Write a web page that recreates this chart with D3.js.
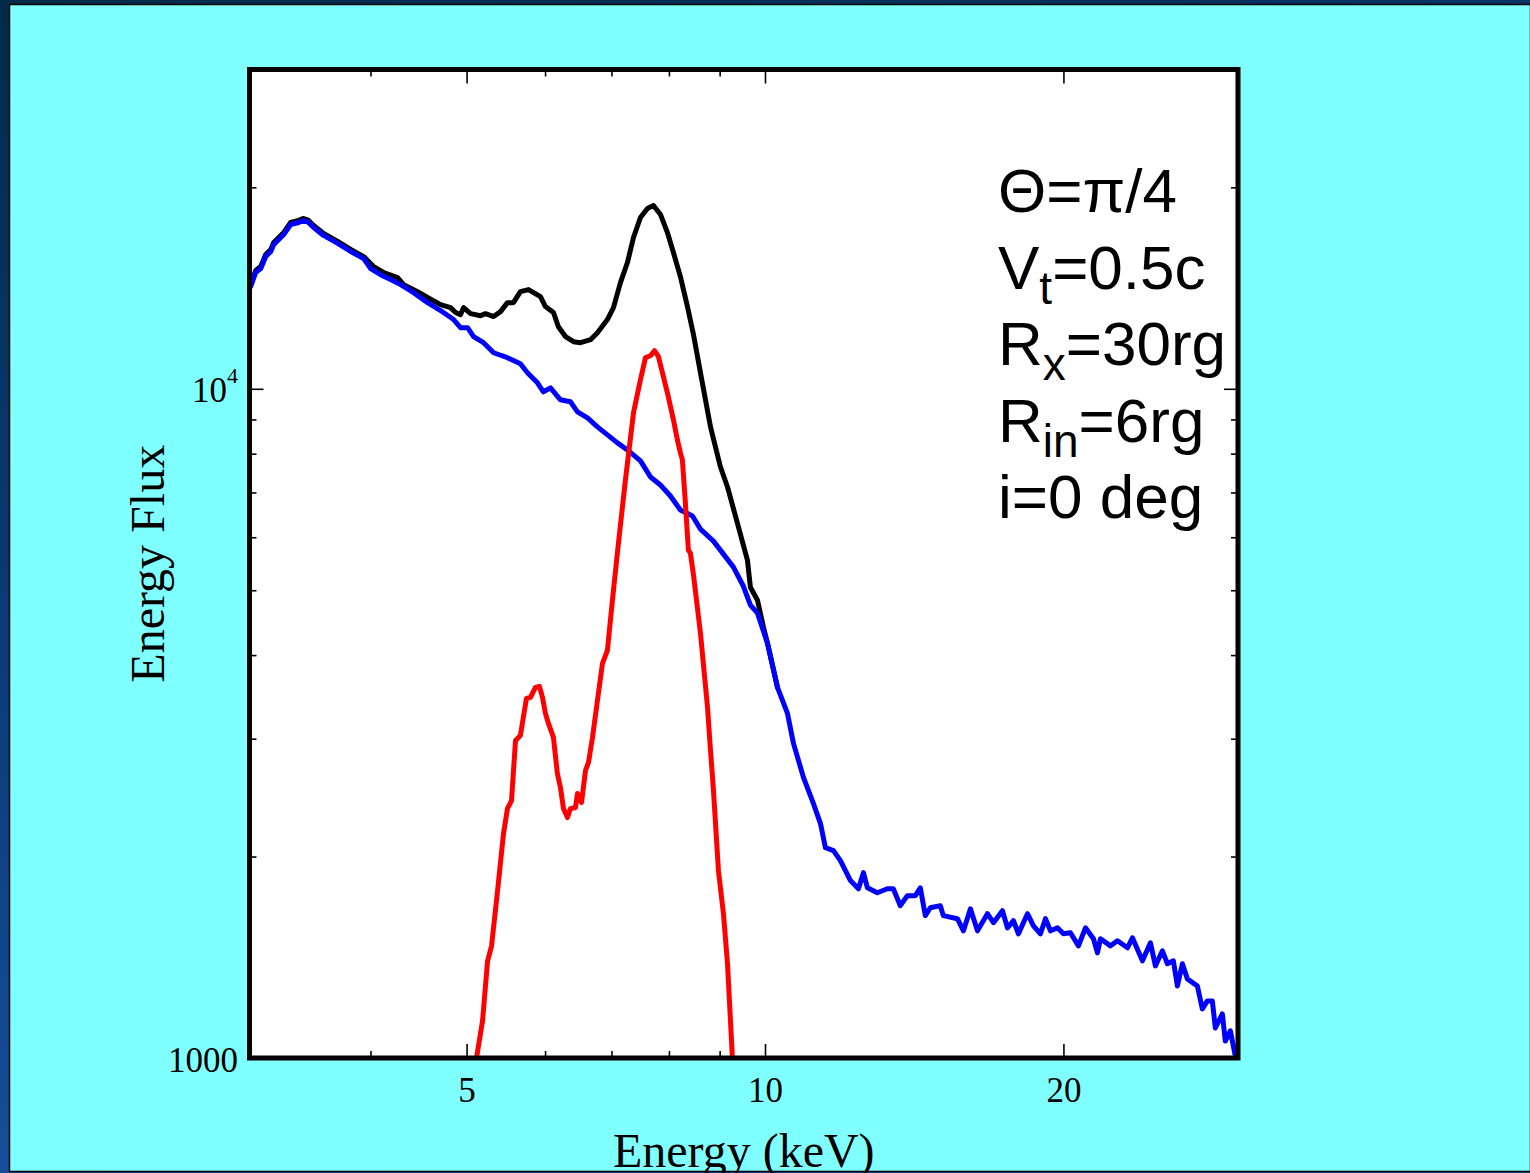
<!DOCTYPE html>
<html><head><meta charset="utf-8">
<script src="https://cdn.jsdelivr.net/npm/d3@7"></script>
<style>html,body{margin:0;padding:0;background:#0b2f5e;} svg{display:block;}</style>
</head><body><svg id="chart" width="1530" height="1173"></svg>
<script>
// ---------- data ----------
const xDomain = [3.02, 30];
const yDomain = [1000, 30000];
const xMajorTicks = [5, 10, 20];
const xMajorLabels = ["5", "10", "20"];
const xMinorTicks = [4, 6, 7, 8, 9];
const yMajorTicks = [1000, 10000];
const yMajorLabels = [["1000", ""], ["10", "4"]];
const yMinorTicks = [2000, 3000, 4000, 5000, 6000, 7000, 8000, 9000, 20000];
const xTitle = "Energy (keV)";
const yTitle = "Energy Flux";
const annotations = [
  ["Θ=π/4", "", ""],
  ["V", "t", "=0.5c"],
  ["R", "x", "=30rg"],
  ["R", "in", "=6rg"],
  ["i=0 deg", "", ""]
];

// continuum (blue)
const blueE = [3.028,3.064,3.100,3.136,3.173,3.195,3.270,3.323,3.385,3.425,
  3.464,3.505,3.587,3.706,3.820,3.937,4.001,4.095,4.191,4.290,
  4.421,4.567,4.707,4.851,4.931,5.012,5.082,5.201,5.324,5.498,
  5.666,5.759,5.895,5.977,6.076,6.218,6.364,6.469,6.621,6.776,
  6.935,7.098,7.265,7.488,7.664,7.844,8.028,8.216,8.450,8.608,
  8.872,9.080,9.293,9.511,9.667,9.827,10.058,10.294,10.536,10.684,
  10.934,11.191,11.375,11.507,11.723,11.915,12.195,12.424,12.569,12.686,
  12.981,13.286,13.472,13.693,13.918,14.179,14.344,14.512,14.681,15.026,
  15.131,15.636,15.855,16.115,16.380,16.764,17.000,17.359,17.562,17.808,
  18.016,18.397,18.655,18.961,19.182,19.406,19.724,20.000,20.328,20.710,
  21.050,21.445,21.645,21.796,22.308,22.674,23.206,23.477,24.028,24.478,
  24.764,25.170,25.463,25.820,26.061,26.364,26.672,27.298,27.617,27.939,
  28.265,28.462,28.928,29.130,29.470,29.814,29.990];
const blueF = [14210,14920,15120,15760,16040,16430,17000,17600,17720,17850,
  17720,17420,16950,16490,16040,15650,15120,14810,14560,14310,
  13920,13450,13090,12690,12340,12340,11970,11720,11320,11130,
  10900,10570,10210,9897,10030,9628,9562,9238,9049,8772,
  8533,8302,8103,7802,7384,7182,6914,6590,6455,6171,
  5921,5662,5414,5069,4749,4620,4166,3580,3273,2952,
  2626,2400,2240,2062,2041,1972,1841,1790,1892,1796,
  1766,1790,1790,1689,1748,1748,1796,1632,1677,1689,
  1632,1615,1549,1671,1549,1643,1593,1660,1565,1604,
  1533,1643,1576,1533,1615,1549,1565,1533,1539,1471,
  1565,1507,1436,1507,1471,1497,1461,1512,1397,1486,
  1373,1446,1383,1397,1281,1383,1313,1281,1184,1217,
  1217,1109,1164,1060,1098,1007,985];

// total (black)
const blackE = [3.028,3.064,3.100,3.136,3.173,3.195,3.270,3.323,3.385,3.425,
  3.464,3.505,3.587,3.706,3.820,3.937,4.029,4.124,4.260,4.320,
  4.462,4.567,4.707,4.817,4.874,4.931,4.965,5.047,5.165,5.225,
  5.324,5.410,5.498,5.575,5.666,5.773,5.936,6.005,6.118,6.189,
  6.291,6.410,6.515,6.668,6.776,6.935,7.033,7.148,7.265,7.368,
  7.488,7.611,7.718,7.844,7.972,8.084,8.216,8.352,8.470,8.608,
  8.811,9.017,9.166,9.379,9.600,9.667,9.827,9.965,10.058,10.294];
const blackF = [14310,15020,15230,15870,16150,16540,17120,17720,17850,17970,
  17850,17540,17060,16600,16150,15760,15230,14920,14660,14310,
  13970,13690,13360,13220,13000,12910,13220,12950,12860,12950,
  12820,13040,13450,13450,13970,14070,13730,13270,13000,12380,
  11970,11760,11720,11840,12130,12690,13220,14410,15440,16830,
  18030,18600,18790,18220,17120,15980,14710,13270,12045,10570,
  8772,7641,7133,6300,5546,5052,4830,4401,4166,3580];

// line (red)
const redE = [5.117,5.189,5.250,5.299,5.373,5.448,5.498,5.550,5.602,5.666,
  5.746,5.800,5.867,5.922,5.964,6.005,6.047,6.118,6.174,6.218,
  6.262,6.320,6.364,6.439,6.469,6.530,6.591,6.637,6.699,6.776,
  6.856,6.935,7.016,7.115,7.231,7.368,7.488,7.576,7.664,7.736,
  7.808,7.899,7.972,8.084,8.159,8.216,8.254,8.312,8.370,8.409,
  8.470,8.608,8.750,8.811,8.872,8.975,9.080,9.166,9.271];
const redF = [1000,1136,1397,1471,1778,2165,2359,2425,2982,3034,
  3446,3458,3580,3592,3458,3273,3162,3013,2662,2537,
  2359,2287,2359,2368,2485,2409,2690,2765,3013,3422,
  3889,4067,4830,5881,7308,9206,10315,11130,11205,11400,
  11166,10422,9863,8987,8387,8021,7829,6750,5741,5682,
  5267,4312,3342,2882,2510,1905,1643,1383,1000];

// ---------- drawing ----------
(function () {
const W = 1530, H = 1173;
const pL = 249.5, pR = 1238, pT = 69.5, pB = 1058;
const svg = d3.select("#chart");

const defs = svg.append("defs");
const grad = defs.append("linearGradient").attr("id", "bg").attr("x1", 0).attr("y1", 0).attr("x2", 0.3).attr("y2", 1);
grad.append("stop").attr("offset", "0%").attr("stop-color", "#022a4a");
grad.append("stop").attr("offset", "60%").attr("stop-color", "#0d3f80");
grad.append("stop").attr("offset", "100%").attr("stop-color", "#1a52a0");
defs.append("clipPath").attr("id", "plotclip").append("rect")
  .attr("x", pL).attr("y", pT).attr("width", pR - pL).attr("height", pB - pT);

svg.append("rect").attr("x", 0).attr("y", 0).attr("width", W).attr("height", H).attr("fill", "url(#bg)");
svg.append("rect").attr("x", 9.5).attr("y", 4.5).attr("width", W - 9).attr("height", 1167)
  .attr("fill", "#7fffff").attr("stroke", "#000").attr("stroke-width", 1.5);

const x = d3.scaleLog().domain(xDomain).range([pL, pR]);
const y = d3.scaleLog().domain(yDomain).range([pB, pT]);

svg.append("rect").attr("x", pL).attr("y", pT).attr("width", pR - pL).attr("height", pB - pT).attr("fill", "#fff");

const line = d3.line().x(d => x(d[0])).y(d => y(d[1]));
const plot = svg.append("g").attr("clip-path", "url(#plotclip)");
const series = [
  {E: blackE, F: blackF, color: "#000000"},
  {E: blueE, F: blueF, color: "#0000ff"},
  {E: redE, F: redF, color: "#ff0000"}
];
series.forEach(s => {
  plot.append("path").datum(d3.zip(s.E, s.F)).attr("d", line)
    .attr("fill", "none").attr("stroke", s.color).attr("stroke-width", 5)
    .attr("stroke-linejoin", "round").attr("stroke-linecap", "round");
});

function styleAxis(g) {
  g.select(".domain").remove();
  g.selectAll(".tick line").attr("stroke", "#000").attr("stroke-width", 1.6);
}
const serif = "'Liberation Serif','Times New Roman',Times,serif";

const gxb = svg.append("g").attr("transform", `translate(0,${pB})`)
  .call(d3.axisBottom(x).tickValues(xMajorTicks).tickSize(-14).tickFormat((d, i) => xMajorLabels[i]));
styleAxis(gxb);
gxb.selectAll(".tick text").attr("y", 44).attr("dy", 0).attr("fill", "#000")
  .style("font-family", serif).style("font-size", "35px");
styleAxis(svg.append("g").attr("transform", `translate(0,${pB})`)
  .call(d3.axisBottom(x).tickValues(xMinorTicks).tickSize(-7).tickFormat("")));
styleAxis(svg.append("g").attr("transform", `translate(0,${pT})`)
  .call(d3.axisTop(x).tickValues(xMajorTicks).tickSize(-14).tickFormat("")));
styleAxis(svg.append("g").attr("transform", `translate(0,${pT})`)
  .call(d3.axisTop(x).tickValues(xMinorTicks).tickSize(-7).tickFormat("")));

const gyl = svg.append("g").attr("transform", `translate(${pL},0)`)
  .call(d3.axisLeft(y).tickValues(yMajorTicks).tickSize(-14).tickFormat(""));
styleAxis(gyl);
gyl.selectAll(".tick text").each(function(d, i) {
  const t = d3.select(this).attr("x", -11.5).attr("y", 13).attr("dy", 0)
    .attr("text-anchor", "end").attr("fill", "#000")
    .style("font-family", serif).style("font-size", "35px");
  t.text(null);
  t.append("tspan").text(yMajorLabels[i][0]);
  if (yMajorLabels[i][1]) t.append("tspan").attr("dy", -19).style("font-size", "22px").text(yMajorLabels[i][1]);
});
styleAxis(svg.append("g").attr("transform", `translate(${pL},0)`)
  .call(d3.axisLeft(y).tickValues(yMinorTicks).tickSize(-7).tickFormat("")));
styleAxis(svg.append("g").attr("transform", `translate(${pR},0)`)
  .call(d3.axisRight(y).tickValues(yMajorTicks).tickSize(-14).tickFormat("")));
styleAxis(svg.append("g").attr("transform", `translate(${pR},0)`)
  .call(d3.axisRight(y).tickValues(yMinorTicks).tickSize(-7).tickFormat("")));

svg.append("rect").attr("x", pL).attr("y", pT).attr("width", pR - pL).attr("height", pB - pT)
  .attr("fill", "none").attr("stroke", "#000").attr("stroke-width", 5);

svg.append("text").attr("x", (pL + pR) / 2).attr("y", 1167).attr("text-anchor", "middle")
  .style("font-family", serif).style("font-size", "48px").attr("fill", "#000").text(xTitle);
svg.append("text").attr("transform", `translate(164,${(pT + pB) / 2}) rotate(-90)`).attr("text-anchor", "middle")
  .style("font-family", serif).style("font-size", "48px").attr("fill", "#000").text(yTitle);

const sans = "'Liberation Sans',Arial,Helvetica,sans-serif";
const ann = svg.append("g").style("font-family", sans).attr("fill", "#000");
annotations.forEach((a, i) => {
  const t = ann.append("text").attr("x", 998).attr("y", 212 + i * 76.5).style("font-size", "62px");
  t.append("tspan").text(a[0]);
  if (a[1]) {
    t.append("tspan").attr("dy", 15).style("font-size", "46px").text(a[1]);
    t.append("tspan").attr("dy", -15).text(a[2]);
  }
});
})();
</script>
</body></html>
